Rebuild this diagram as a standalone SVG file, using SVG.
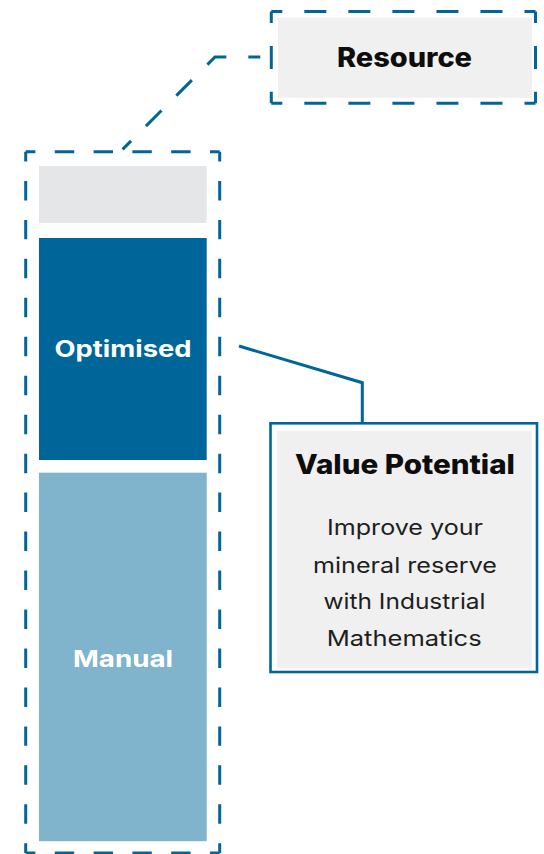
<svg xmlns="http://www.w3.org/2000/svg" width="544" height="854" viewBox="0 0 544 854">
  <style>
    .dash { fill: none; stroke: #006699; stroke-width: 3; stroke-dasharray: 1 1; stroke-dashoffset: 0.5; }
    .conn { fill: none; stroke: #006699; stroke-width: 3; }
    .title { font-family: Inter, "Noto Sans", sans-serif; font-weight: 800; fill: #0d0d0d; text-anchor: middle; }
    .bar { font-family: Inter, "Noto Sans", sans-serif; font-weight: 700; fill: #ffffff; text-anchor: middle; }
    .body { font-family: Inter, "Noto Sans", sans-serif; font-weight: 400; fill: #1e1e1e; text-anchor: middle; font-size: 21.5px; }
  </style>
  <rect width="544" height="854" fill="#ffffff"/>

  <g id="connectors">
    <path class="conn" d="M271.3,57 L215,57 L122,150" stroke-dasharray="0 11 12 22 22 22 22 21 22 21 12 100"/>
    <path class="conn" d="M239,346 L362.3,382.7 L362.3,423" stroke-width="2.6"/>
  </g>

  <g id="resource">
    <rect x="278" y="17.7" width="254" height="80" fill="#f0f0f0"/>
    <line class="dash" x1="271.3" y1="11.5" x2="535.5" y2="11.5" pathLength="12"/>
    <line class="dash" x1="271.3" y1="103.3" x2="535.5" y2="103.3" pathLength="12"/>
    <line class="dash" x1="271.3" y1="11.5" x2="271.3" y2="103.3" pathLength="4"/>
    <line class="dash" x1="535.5" y1="11.5" x2="535.5" y2="103.3" pathLength="4"/>
    <text class="title" x="404.5" y="66.7" font-size="26.5" textLength="135" lengthAdjust="spacingAndGlyphs">Resource</text>
  </g>

  <g id="stack">
    <line class="dash" x1="25.7" y1="151.7" x2="219.7" y2="151.7" pathLength="10"/>
    <line class="dash" x1="25.7" y1="853" x2="219.7" y2="853" pathLength="10"/>
    <line class="dash" x1="25.7" y1="151.7" x2="25.7" y2="853" pathLength="36"/>
    <line class="dash" x1="219.7" y1="151.7" x2="219.7" y2="853" pathLength="36"/>
  </g>

  <g id="top-block">
    <rect x="39" y="166" width="167.7" height="57" fill="#e5e6e8"/>
  </g>

  <g id="optimised">
    <rect x="39" y="238" width="167.7" height="222" fill="#006699"/>
    <text class="bar" x="123" y="356.7" font-size="22.5" textLength="137" lengthAdjust="spacingAndGlyphs">Optimised</text>
  </g>

  <g id="manual">
    <rect x="39" y="472.7" width="167.7" height="368.5" fill="#80b3cc"/>
    <text class="bar" x="123" y="666.7" font-size="23" textLength="100" lengthAdjust="spacingAndGlyphs">Manual</text>
  </g>

  <g id="value-potential">
    <rect x="270.5" y="423.3" width="266.5" height="248.7" fill="#ffffff" stroke="#006699" stroke-width="2.6"/>
    <rect x="277" y="431" width="255" height="237" fill="#f0f0f0"/>
    <text class="title" x="405" y="474" font-size="27" textLength="220" lengthAdjust="spacingAndGlyphs">Value Potential</text>
    <text class="body" x="405" y="535" textLength="156" lengthAdjust="spacingAndGlyphs">Improve your</text>
    <text class="body" x="405" y="572.7" textLength="184" lengthAdjust="spacingAndGlyphs">mineral reserve</text>
    <text class="body" x="404.5" y="609.3" textLength="162" lengthAdjust="spacingAndGlyphs">with Industrial</text>
    <text class="body" x="404.2" y="646" textLength="155" lengthAdjust="spacingAndGlyphs">Mathematics</text>
  </g>
</svg>
